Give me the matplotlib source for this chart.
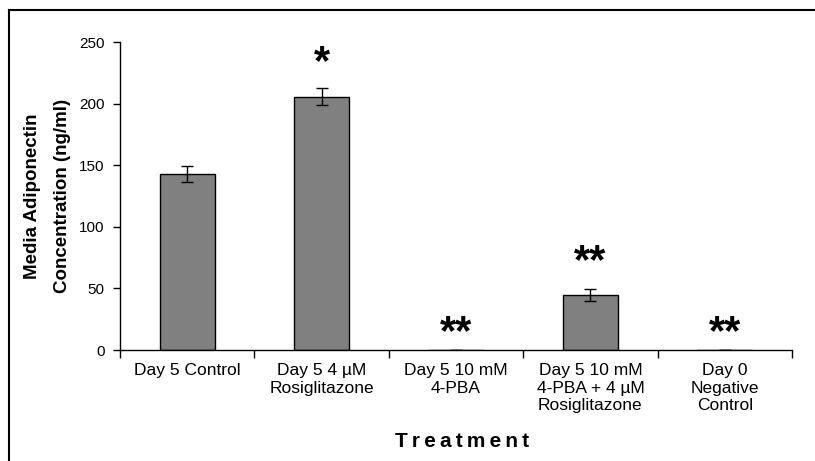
import matplotlib
matplotlib.use("Agg")
import matplotlib.pyplot as plt
from matplotlib.lines import Line2D
import numpy as np

# data
treatments = ["Day 5 Control", "Day 5 4 \u00b5M\nRosiglitazone", "Day 5 10 mM\n4-PBA",
              "Day 5 10 mM\n4-PBA + 4 \u00b5M\nRosiglitazone", "Day 0\nNegative\nControl"]
adiponectin = [142.5, 205.5, 0.0, 44.5, 0.0]
adiponectin_err = [6.5, 7.0, 0.0, 5.0, 0.0]
stars = ["", "*", "**", "**", "**"]
star_y = [0, 233, 14, 71, 14]

plt.rcParams['font.family'] = ['Liberation Sans', 'DejaVu Sans']

fig = plt.figure(figsize=(8.15, 4.61), dpi=100)
ax = fig.add_axes([120/815, 1 - 350/461, 672/815, 308/461])

x = np.arange(len(treatments))
ax.bar(x, adiponectin, width=0.41, color="#808080", edgecolor="black", linewidth=1.0,
       yerr=adiponectin_err, error_kw=dict(ecolor="black", elinewidth=1.0, capsize=4, capthick=1.0))

for xi, s, sy in zip(x, stars, star_y):
    if s:
        ax.text(xi, sy, s, ha="center", va="center", fontsize=30, fontweight="bold")

ax.set_xlim(-0.5, len(treatments) - 0.5)
ax.set_ylim(0, 250)
ax.set_yticks(np.arange(0, 251, 50))
ax.tick_params(axis="y", length=5, width=1, pad=6, labelsize=11, direction="out")

ax.set_xticks(x)
ax.set_xticklabels(treatments, fontsize=12.5, linespacing=1.2)
ax.set_xticks(np.arange(-0.5, len(treatments)), minor=True)
ax.tick_params(axis="x", which="major", length=0, pad=9.5)
ax.tick_params(axis="x", which="minor", length=6, width=1, direction="out")

for side in ("top", "right"):
    ax.spines[side].set_visible(False)
for side in ("left", "bottom"):
    ax.spines[side].set_linewidth(1.0)

ax.set_ylabel("Media Adiponectin\nConcentration (ng/ml)", fontsize=13.5, fontweight="bold",
              linespacing=2.0, labelpad=6)

fig.text(462/815, 1 - 441/461, "T\u2009r\u2009e\u2009a\u2009t\u2009m\u2009e\u2009n\u2009t", ha="center", va="center",
         fontsize=15, fontweight="bold")

# outer frame (top and left edges)
fig.add_artist(Line2D([9/815, 9/815], [0, 1 - 10/461], transform=fig.transFigure, color="black", linewidth=1.5))
fig.add_artist(Line2D([9/815, 1], [1 - 10/461, 1 - 10/461], transform=fig.transFigure, color="black", linewidth=1.5))

fig.savefig("out.png", dpi=100)
